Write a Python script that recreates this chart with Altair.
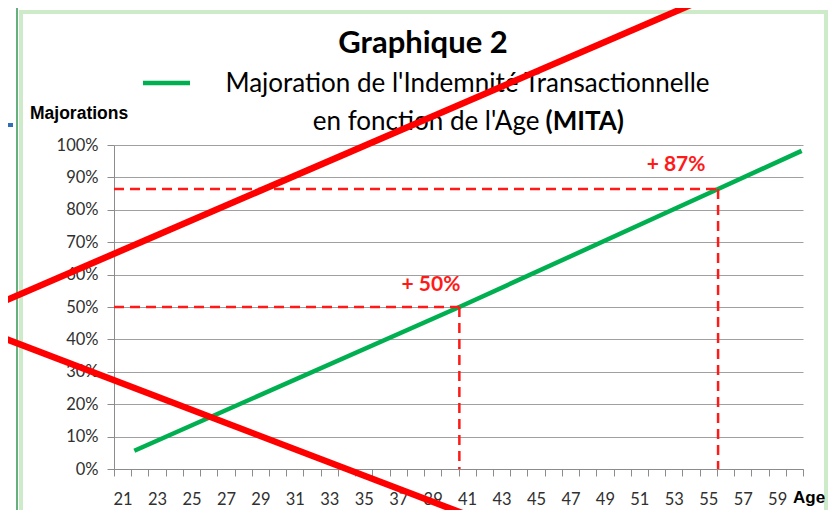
import altair as alt
import pandas as pd

# ---- data ----
ages = list(range(21, 61))                      # age categories on the x axis
label_ages = list(range(21, 60, 2))             # ages that carry a label
y_ticks = [0, 0.1, 0.2, 0.3, 0.4, 0.5, 0.6, 0.7, 0.8, 0.9, 1.0]

line_age = [21.68, 40.55, 55.57, 60.42]         # MITA line
line_val = [0.0565, 0.50, 0.864, 0.982]

mark_age = [40.55, 55.57]                       # highlighted points
mark_val = [0.50, 0.864]
ann_age = [38.9, 53.13]
ann_val = [0.569, 0.937]
ann_text = ["+ 50%", "+ 87%"]

# ---- frames ----
df_line = pd.DataFrame({"age": line_age, "val": line_val})
seg_rows = []
for a, v in zip(mark_age, mark_val):
    seg_rows.append({"age": ages[0] - 0.5, "val": v, "age2": a, "val2": v})
    seg_rows.append({"age": a, "val": v, "age2": a, "val2": 0.0})
df_seg = pd.DataFrame(seg_rows)
df_ann = pd.DataFrame({"age": ann_age, "val": ann_val, "label": ann_text})
one = pd.DataFrame({"k": [0]})

tick_vals = [a - 0.5 for a in ages] + [ages[-1] + 0.5]
label_list = ",".join(str(a) for a in label_ages)

xscale = alt.Scale(domain=[ages[0] - 0.5, ages[-1] + 0.5], nice=False, zero=False)
yscale = alt.Scale(domain=[0, 1], nice=False)

xaxis = alt.Axis(
    values=tick_vals,
    labelExpr=f"indexof([{label_list}], datum.value + 0.5) >= 0 ? format(datum.value + 0.5, 'd') : ''",
    labelOffset=8.6, tickSize=7, tickColor="#8c8c8c", domainColor="#8c8c8c",
    labelFont="Lato", labelFontSize=16.5, labelColor="#303030", labelPadding=15,
    grid=False, title="", labelOverlap=False, labelFlush=False,
)
yaxis = alt.Axis(
    values=y_ticks, format=".0%", tickSize=7, tickColor="#8c8c8c",
    domainColor="#8c8c8c", grid=True, gridColor="#a0a0a0", gridWidth=1,
    labelFont="Lato", labelFontSize=16.5, labelColor="#303030", labelPadding=9,
    title="",
)
X = alt.X("age:Q", scale=xscale, axis=xaxis)
Y = alt.Y("val:Q", scale=yscale, axis=yaxis)

# ---- decorative frame ----
frame_outer = alt.Chart(one).mark_rect(filled=False, stroke="#66b07e", strokeWidth=2).encode(
    x=alt.value(-97), x2=alt.value(716), y=alt.value(-138), y2=alt.value(420))
frame_inner = alt.Chart(one).mark_rect(filled=False, stroke="#cdebc8", strokeWidth=4).encode(
    x=alt.value(-93), x2=alt.value(712), y=alt.value(-133), y2=alt.value(420))
blue_bar = alt.Chart(one).mark_rule(stroke="#2f6fb5", strokeWidth=4).encode(
    x=alt.value(-120), x2=alt.value(-101), y=alt.value(-20))

main = alt.Chart(df_line).mark_line(color="#00b050", strokeWidth=4.5).encode(x=X, y=Y)

dashes = alt.Chart(df_seg).mark_rule(color="#ff1a1a", strokeWidth=2.5, strokeDash=[10, 6]).encode(
    x=X, y=Y, x2="age2:Q", y2="val2:Q")

ann = alt.Chart(df_ann).mark_text(color="#ff1a1a", font="Lato", fontSize=21, fontWeight="bold",
                                   align="center", baseline="middle").encode(x=X, y=Y, text="label:N")

def label(txt, x, y, size, weight="normal", align="center", font="Lato", color="#000000"):
    return alt.Chart(one).mark_text(font=font, fontSize=size, fontWeight=weight, align=align,
                                    baseline="alphabetic", color=color).encode(
        x=alt.value(x), y=alt.value(y), text=alt.value(txt))

title = label("Graphique 2", 309, -92, 31, "bold")
leg_sym = alt.Chart(one).mark_rule(stroke="#00b050", strokeWidth=4.5).encode(
    x=alt.value(29), x2=alt.value(76), y=alt.value(-62))
leg1 = label("Majoration de l'Indemnité Transactionnelle", 353.5, -53, 26)
leg2a = label("en fonction de l'Age", 425.5, -15, 26, align="right")
leg2b = label("(MITA)", 431.5, -15, 26, "bold", align="left")
ylab = label("Majorations", -84, -26, 17.5, "bold", align="left", font="Liberation Sans")
xlab = label("Age", 679, 358, 17, "bold", align="left", font="Liberation Sans")

red1 = alt.Chart(one).mark_rule(stroke="#ff0000", strokeWidth=6.5).encode(
    x=alt.value(-134), y=alt.value(166.6), x2=alt.value(616), y2=alt.value(-157))
red2 = alt.Chart(one).mark_rule(stroke="#ff0000", strokeWidth=6.5).encode(
    x=alt.value(-134), y=alt.value(184.1), x2=alt.value(406), y2=alt.value(390.1))

chart = alt.layer(
    frame_outer, frame_inner, blue_bar, main, dashes, ann,
    title, leg_sym, leg1, leg2a, leg2b, ylab, xlab, red1, red2,
).properties(
    width=689, height=324,
    autosize=alt.AutoSizeParams(type="none"),
    padding={"left": 106, "top": 137, "right": 25, "bottom": 41},
    background="white",
).configure_view(strokeWidth=0)

chart.save("out.html", embed_options={"renderer": "svg", "actions": False})
